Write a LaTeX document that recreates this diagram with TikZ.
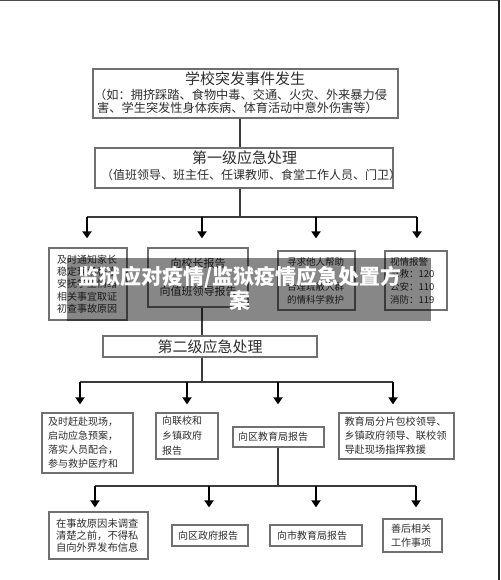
\documentclass[tikz,border=0pt]{standalone}
\usepackage{fontspec}
\newfontfamily\cjk{Noto Sans CJK SC}
\usetikzlibrary{arrows.meta,calc}
\definecolor{bordergray}{HTML}{707070}
\definecolor{textgray}{HTML}{2E2E2E}
\definecolor{linegray}{HTML}{3A3A3A}
\begin{document}
\begin{tikzpicture}[x=1pt,y=-1pt,
  bx/.style={draw=bordergray, line width=1.2pt, inner sep=0pt, text=textgray},
  lab/.style={inner sep=0pt, text=textgray},
  ftitle/.style={font=\cjk\fontsize{15}{17}\selectfont},
  fsub/.style={font=\cjk\fontsize{12}{13}\selectfont},
  conn/.style={draw=linegray, line width=1.3pt},
  arr/.style={draw=black, line width=2.6pt, -{Triangle[width=9pt,length=7pt]}},
  banner/.style={inner sep=0pt, text=white, font=\cjk\bfseries\fontsize{21}{23}\selectfont}
]
\useasboundingbox (0,0) rectangle (500,580);
\fill[white] (0,0) rectangle (500,580);
\fill[black!70] (0,0) rectangle (500,1.2);
\fill[black!85] (498,0) rectangle (500,580);

% top box
\node[bx, minimum width=305pt, minimum height=49pt] (top) at (245.5,93.5) {};
\node[lab, ftitle] (topt) at (245,79) {学校突发事件发生};
\node[lab, font=\cjk\fontsize{12.2}{13}\selectfont, anchor=west] (tops1) at (94,95) {（如：拥挤踩踏、食物中毒、交通、火灾、外来暴力侵};
\node[lab, font=\cjk\fontsize{12.2}{13}\selectfont, anchor=west] (tops2) at (97,108) {害、学生突发性身体疾病、体育活动中意外伤害等）};

% first level
\node[bx, minimum width=298pt, minimum height=40pt] (L1) at (244,168) {};
\node[lab, ftitle] (l1t) at (244.5,158) {第一级应急处理};
\node[lab, fsub] (l1s) at (251,175) {（值班领导、班主任、任课教师、食堂工作人员、门卫）};

% row 1
\node[bx, font=\cjk\fontsize{10}{12.25}\selectfont, minimum width=78pt, minimum height=72pt, text width=62pt, align=left] (A) at (88,284) {及时通知家长\\稳定现场秩序\\安抚学生情绪\\相关事宜取证\\初查事故原因};
\node[bx, font=\cjk\fontsize{11}{28}\selectfont, minimum width=100pt, minimum height=59pt, text width=90pt, align=center] (B) at (198,277.5) {向校长报告\\向值班领导报告};
\node[bx, font=\cjk\fontsize{9.5}{12.6}\selectfont, minimum width=77pt, minimum height=59pt, text width=59pt, align=left] (C) at (316.5,280.5) {寻求他人帮助\\[12.6pt]合理疏散人群\\的情科学救护};
\node[bx, font=\cjk\fontsize{9.5}{12.6}\selectfont, minimum width=62pt, minimum height=59pt, text width=52pt, align=left] (D) at (416,280.5) {视情报警\\急救：120\\公安：110\\消防：119};

% second level
\node[bx, ftitle, minimum width=214pt, minimum height=21pt] (L2) at (210,346.5) {第二级应急处理};

% row 2
\node[bx, font=\cjk\fontsize{10}{14}\selectfont, minimum width=91pt, minimum height=60pt, text width=79pt, align=left] (E) at (87.5,443) {及时赶赴现场，\\启动应急预案，\\落实人员配合，\\参与救护医疗和};
\node[bx, font=\cjk\fontsize{10}{15}\selectfont, minimum width=62pt, minimum height=46pt, text width=50pt, align=left] (F) at (187,436) {向联校和\\乡镇政府\\报告};
\node[bx, font=\cjk\fontsize{10}{12}\selectfont, minimum width=91pt, minimum height=20pt, text width=81pt, align=left] (G) at (278.5,437) {向区教育局报告};
\node[bx, font=\cjk\fontsize{10.2}{14}\selectfont, minimum width=115pt, minimum height=46pt, text width=104pt, align=left] (H) at (396.5,436) {教育局分片包校领导、\\乡镇政府领导、联校领\\导赴现场指挥救援};

% row 3
\node[bx, font=\cjk\fontsize{10.3}{12}\selectfont, minimum width=99pt, minimum height=47pt, text width=85pt, align=left] (I) at (98.5,535.5) {在事故原因未调查\\清楚之前，不得私\\自向外界发布信息};
\node[bx, font=\cjk\fontsize{10}{12}\selectfont, minimum width=76pt, minimum height=21pt, text width=64pt, align=left] (J) at (210,535.5) {向区政府报告};
\node[bx, font=\cjk\fontsize{10}{12}\selectfont, minimum width=92pt, minimum height=21pt, text width=78pt, align=left] (K) at (316,535.5) {向市教育局报告};
\node[bx, font=\cjk\fontsize{10}{14}\selectfont, minimum width=59pt, minimum height=33pt, text width=43pt, align=left] (L) at (412.5,535.5) {善后相关\\工作事项};

% junction coordinates
\coordinate (j1) at (240,217);
\coordinate (a1) at (87,217);
\coordinate (a2) at (202,217);
\coordinate (a3) at (316,217);
\coordinate (a4) at (417,217);
\coordinate (j2) at (202,382);
\coordinate (b1) at (80,382);
\coordinate (b2) at (187,382);
\coordinate (b3) at (278,382);
\coordinate (b4) at (393,382);
\coordinate (j3) at (278,486);
\coordinate (c1) at (95,486);
\coordinate (c2) at (209,486);
\coordinate (c3) at (316,486);
\coordinate (c4) at (416,486);

% level 1 connectors
\draw[conn] (top.south -| j1) -- (L1.north -| j1);
\draw[conn] (L1.south -| j1) -- (j1);
\draw[conn] (a1) -- (a4);
\draw[arr, shorten >=9pt] (a1) -- (a1 |- A.north);
\draw[arr, shorten >=9pt] (a2) -- (a2 |- B.north);
\draw[arr, shorten >=12pt] (a3) -- (a3 |- C.north);
\draw[arr, shorten >=12pt] (a4) -- (a4 |- D.north);

% level 2 connectors
\draw[conn] (B.south -| j2) -- (L2.north -| j2);
\draw[conn] (L2.south -| j2) -- (j2);
\draw[conn] (b1) -- (b4);
\draw[arr, shorten >=8pt] (b1) -- (b1 |- E.north);
\draw[arr, shorten >=8pt] (b2) -- (b2 |- F.north);
\draw[arr, shorten >=22pt] (b3) -- (b3 |- G.north);
\draw[arr, shorten >=8pt] (b4) -- (b4 |- H.north);

% level 3 connectors
\draw[conn] (G.south -| j3) -- (j3);
\draw[conn] (c1) -- (c4);
\draw[arr, shorten >=4pt] (c1) -- (c1 |- I.north);
\draw[arr, shorten >=17pt] (c2) -- (c2 |- J.north);
\draw[arr, shorten >=17pt] (c3) -- (c3 |- K.north);
\draw[arr, shorten >=11pt] (c4) -- (c4 |- L.north);

% overlay banner
\fill[black, fill opacity=0.47] (67,258) rectangle (431,321);
\node[banner] (bn1) at (240,277) {监狱应对疫情/监狱疫情应急处置方};
\node[banner] (bn2) at (240,300) {案};
\end{tikzpicture}
\end{document}
